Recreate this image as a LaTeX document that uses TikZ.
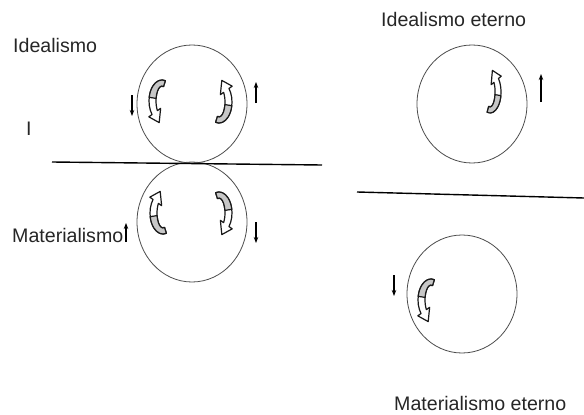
\documentclass[tikz,border=0pt]{standalone}
\usepackage{fontspec}
\setmainfont{Liberation Sans}
\usepackage{tikz}
\usetikzlibrary{positioning,arrows.meta,shapes.geometric}

\tikzset{
  roll/.style={draw=black!70, line width=0.8pt, ellipse, minimum width=110pt, minimum height=118pt, inner sep=0pt},
  label/.style={anchor=base west, inner sep=0pt, text=black!85, font=\fontsize{19.6}{24}\selectfont},
  ground/.style={line width=1.4pt},
  turn/.style={-{Stealth[length=6pt,width=4.5pt]}, line width=1.1pt},
  pics/curlarrow/.style={code={
    % white band with head, then the grey tail on top
    \draw[line width=1.2pt, draw=black!90, fill=white, line join=round]
      (285:13 and 21) arc[start angle=285, end angle=140, x radius=13, y radius=21]
      -- (-13.2,15.84) -- (-2.82,21.6) -- (-1.35,7.3)
      -- (140:6 and 15) arc[start angle=140, end angle=285, x radius=6, y radius=15] -- cycle;
    \draw[line width=1.2pt, draw=black!90, fill=black!22, line join=round]
      (285:13 and 21) arc[start angle=285, end angle=190, x radius=13, y radius=21]
      -- (190:6 and 15) arc[start angle=190, end angle=285, x radius=6, y radius=15] -- cycle;
  }}
}

\begin{document}
\begin{tikzpicture}[x=1pt, y=-1pt]
\useasboundingbox (0,0) rectangle (584,415);

% the two rolls touching at the line
\node[roll] (ideal) at (192,104) {};
\node[roll, minimum height=120pt] (mater) at (192,222) {};
\draw[ground] (52,162) -- (322,165);

% the two separated rolls
\node[roll] (idealet) at (472,104) {};
\node[roll] (materet) at (462,294) {};
\draw[ground] (357,192) -- (584,198);

% labels
\node[label] (tideal) at (13,52) {Idealismo};
\node[label] (tI) at (26,135) {I};
\node[label] (tmater) at (12,242) {Materialismo};
\node[label] (tidealet) at (381,27) {Idealismo eterno};
\node[label] (tmateret) at (394,410) {Materialismo eterno};

% turning glyphs
\pic at (162,101) {curlarrow};
\pic[rotate=180] at (219,102) {curlarrow};
\pic[yscale=-1] at (163,213) {curlarrow};
\pic[xscale=-1] at (219,213) {curlarrow};
\pic[rotate=180, xscale=0.85] at (490,92) {curlarrow};
\pic at (431,300) {curlarrow};

% small arrows
\draw[turn] (132,95) -- (132,116);
\draw[turn] (256,103) -- (256,82);
\draw[turn] (126,242) -- (126,223);
\draw[turn] (256,222) -- (256,243);
\draw[turn] (541,102) -- (541,74);
\draw[turn] (394,275) -- (394,296);
\end{tikzpicture}
\end{document}
